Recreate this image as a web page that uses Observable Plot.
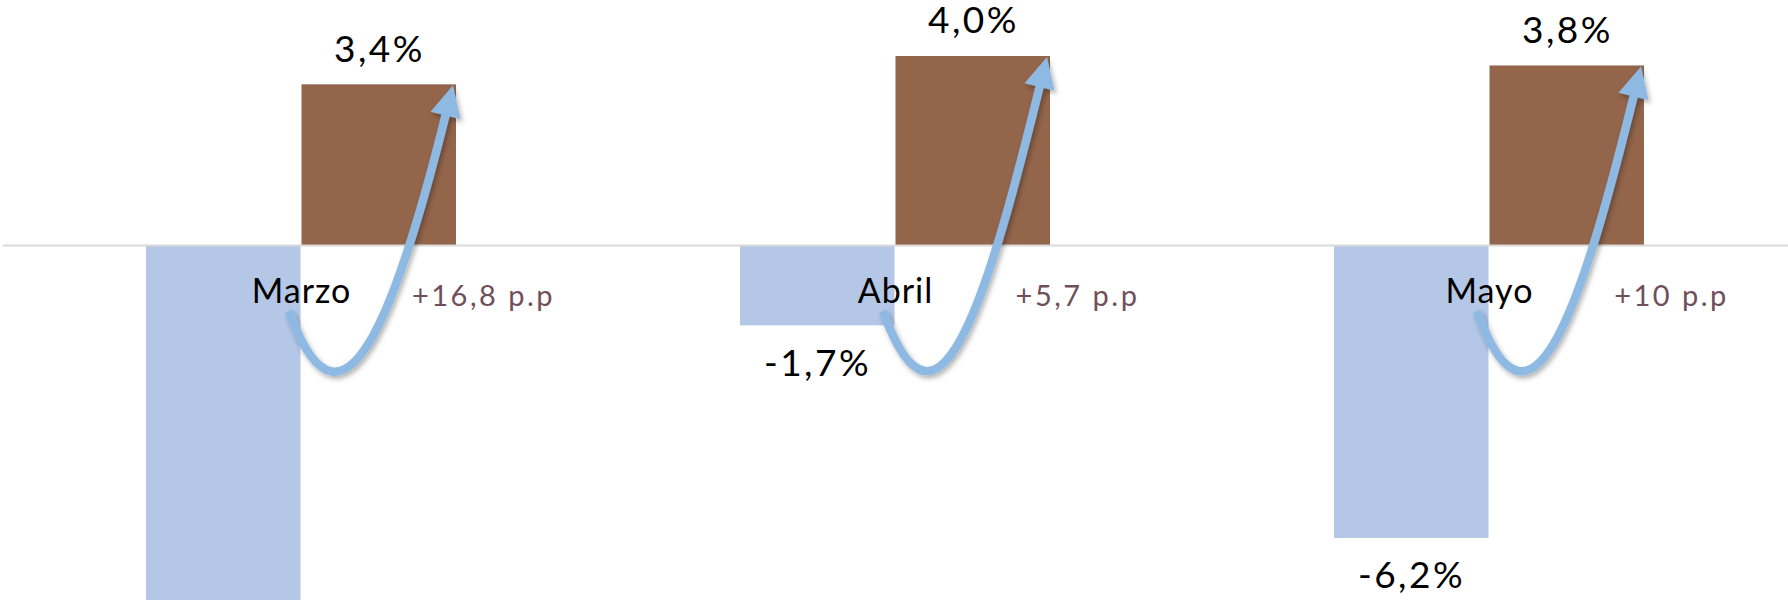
<!DOCTYPE html>
<html>
<head>
<meta charset="utf-8">
<script src="https://cdn.jsdelivr.net/npm/d3@7"></script>
<script src="https://cdn.jsdelivr.net/npm/@observablehq/plot@0.6"></script>
<style>
  html, body { margin: 0; padding: 0; background: #fff; }
  #chart svg { display: block; }
</style>
</head>
<body>
<div id="chart"></div>
<script>
// ---- data ----
const months = ["Marzo", "Abril", "Mayo"];
const previous = [-13.4, -1.7, -6.2];   // light-blue bars
const current = [3.4, 4.0, 3.8];        // brown bars
const ppChange = [16.8, 5.7, 10];       // change in percentage points

const rows = months.map((m, i) => ({month: m, prev: previous[i], curr: current[i], pp: ppChange[i]}));
const fmtPct = v => v.toFixed(1).replace(".", ",") + "%";
const fmtPP = v => "+" + String(v).replace(".", ",") + " p.p";

const BLUE = "#b4c7e7", BROWN = "#93654b", ARROW = "#8db9e2";
const FONT = "Lato, 'Noto Sans', sans-serif";
const half = 155.5;
const yDomain = [-7.513, 5.185];

const chart = Plot.plot({
  width: 1788,
  height: 600,
  marginTop: 0, marginBottom: 0, marginLeft: 3, marginRight: 0,
  style: {fontFamily: FONT, background: "#fff"},
  x: {type: "band", domain: months, paddingInner: 0.4773, paddingOuter: 0.239, axis: null},
  y: {domain: yDomain, axis: null},
  marks: [
    Plot.barY(rows, {x: "month", y: "prev", fill: BLUE, insetRight: half, clip: true}),
    Plot.barY(rows, {x: "month", y: "curr", fill: BROWN, insetLeft: half, clip: true}),
    Plot.ruleY([0], {stroke: "#d9d9d9", strokeWidth: 2}),
    Plot.text(rows, {x: "month", y: "curr", text: d => fmtPct(d.curr), dx: 78, dy: -35,
      fontSize: 37, fill: "#000"}),
    Plot.text(rows.filter(d => d.prev >= yDomain[0]), {x: "month", y: "prev", text: d => fmtPct(d.prev), dx: -78, dy: 38,
      fontSize: 37, fill: "#000"}),
    Plot.text(rows, {x: "month", y: 0, text: "month", dy: 47, fontSize: 34, fill: "#000"}),
    Plot.text(rows, {x: "month", y: 0, text: d => fmtPP(d.pp), dx: 182, dy: 51, fontSize: 29,
      fill: "#6f4f5a"})
  ]
});

document.getElementById("chart").appendChild(chart);

const svg = d3.select(chart);
// letter spacing to approximate the wide geometric face of the original
svg.selectAll("text").each(function() {
  const t = this.textContent;
  if (t.endsWith("p.p") || t.endsWith("%")) this.style.letterSpacing = "2.5px";
  else if (months.includes(t)) this.style.letterSpacing = "1px";
});

// ---- curved arrows, positioned through Plot's scales ----
const xs = chart.scale("x"), ys = chart.scale("y");
const bw = xs.bandwidth;
const defs = svg.append("defs");
defs.append("filter").attr("id", "arrowShadow").attr("x", "-20%").attr("y", "-20%").attr("width", "140%").attr("height", "140%")
  .append("feDropShadow").attr("dx", 2).attr("dy", 3).attr("stdDeviation", 2.5)
  .attr("flood-color", "#000").attr("flood-opacity", 0.3);

const gArrows = svg.append("g").attr("filter", "url(#arrowShadow)");
rows.forEach(r => {
  const cx = xs.apply(r.month) + bw / 2;
  const z = ys.apply(0);
  const T = [xs.apply(r.month) + bw - 3, ys.apply(r.curr) + 1];
  const dir = [0.24, -0.971];
  const E = [T[0] - 26 * dir[0], T[1] - 26 * dir[1]];
  const S = [cx - 12, z + 66];
  const C1 = [cx + 45, z + 226];
  const C2y = z + 38;
  const C2 = [E[0] - (dir[0] / -dir[1]) * (C2y - E[1]), C2y];
  gArrows.append("path")
    .attr("d", `M${S}C${C1} ${C2} ${E}`)
    .attr("fill", "none").attr("stroke", ARROW).attr("stroke-width", 8.5);
  const B = [T[0] - 31 * dir[0], T[1] - 31 * dir[1]];
  const perp = [-dir[1], dir[0]];
  const hw = 15.5;
  gArrows.append("path")
    .attr("d", `M${T}L${[B[0] + perp[0] * hw, B[1] + perp[1] * hw]}L${[B[0] - perp[0] * hw, B[1] - perp[1] * hw]}Z`)
    .attr("fill", ARROW);
});
</script>
</body>
</html>
